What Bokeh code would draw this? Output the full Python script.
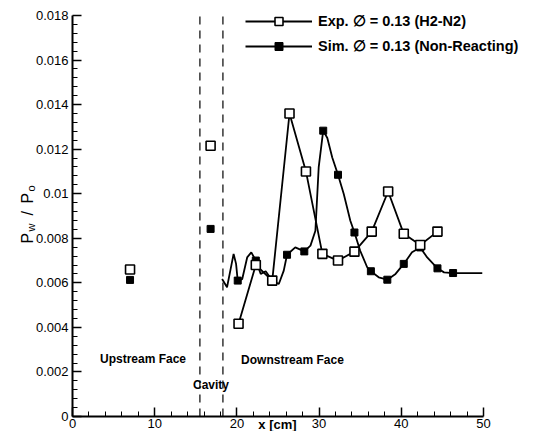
import math
from bokeh.plotting import figure
from bokeh.models import Label, Legend, LegendItem, FixedTicker, Range1d
from bokeh.embed import file_html
from bokeh.resources import INLINE

# ---------------- data ----------------
# Experiment (open squares)
exp_iso_x = [7.0, 16.8]
exp_iso_y = [0.0066, 0.01215]
exp_x = [20.2, 22.3, 24.3, 26.4, 28.4, 30.4, 32.3, 34.3, 36.4, 38.4, 40.3, 42.3, 44.4]
exp_y = [0.00416, 0.0068, 0.0061, 0.0136, 0.0110, 0.0073, 0.0070, 0.0074,
         0.0083, 0.0101, 0.0082, 0.0077, 0.0083]

# Simulation (filled squares + continuous curve)
sim_iso_x = [7.0, 16.8]
sim_iso_y = [0.00613, 0.00842]
sim_x = [20.1, 22.3, 24.3, 26.1, 28.2, 30.5, 32.3, 34.3, 36.3, 38.3, 40.3, 42.3, 44.4, 46.3]
sim_y = [0.0061, 0.0070, 0.0061, 0.00726, 0.00741, 0.01283, 0.01085, 0.00826,
         0.00652, 0.00614, 0.00685, 0.00759, 0.00665, 0.00644]
sim_curve_x = [18.2, 18.8, 19.2, 19.6, 19.9, 20.1, 20.65, 21.25, 21.75, 22.3, 22.9,
               23.5, 24.3, 25.1, 25.7, 26.1, 27.1, 28.2, 28.95, 29.55, 29.95, 30.5,
               31.0, 31.6, 32.3, 33.0, 33.8, 34.3, 35.0, 35.85, 36.3, 37.25, 38.3,
               39.3, 40.3, 41.3, 42.3, 43.15, 44.4, 45.2, 46.3, 49.85]
sim_curve_y = [0.00617, 0.00580, 0.00655, 0.00730, 0.00685, 0.00610, 0.00617,
               0.00714, 0.00737, 0.00700, 0.00640, 0.00652, 0.00610, 0.00595,
               0.00655, 0.00726, 0.00759, 0.00741, 0.00767, 0.00834, 0.01118,
               0.01283, 0.01250, 0.01163, 0.01085, 0.00999, 0.00879, 0.00826,
               0.00744, 0.00670, 0.00652, 0.00625, 0.00614, 0.00640, 0.00685,
               0.00737, 0.00759, 0.00714, 0.00665, 0.00647, 0.00644, 0.00644]

# vertical cavity boundaries
cavity_x = [15.5, 18.3]

# axis ticks
x_ticks = [0, 10, 20, 30, 40, 50]
x_tick_labels = ["0", "10", "20", "30", "40", "50"]
x_minor = [2, 4, 6, 8, 12, 14, 16, 18, 22, 24, 26, 28, 32, 34, 36, 38, 42, 44, 46, 48]
y_ticks = [0.0, 0.002, 0.004, 0.006, 0.008, 0.01, 0.012, 0.014, 0.016, 0.018]
y_tick_labels = ["0", "0.002", "0.004", "0.006", "0.008", "0.01", "0.012",
                 "0.014", "0.016", "0.018"]
y_minor = [0.0004, 0.0008, 0.0012, 0.0016, 0.0024, 0.0028, 0.0032, 0.0036,
           0.0044, 0.0048, 0.0052, 0.0056, 0.0064, 0.0068, 0.0072, 0.0076,
           0.0084, 0.0088, 0.0092, 0.0096, 0.0104, 0.0108, 0.0112, 0.0116,
           0.0124, 0.0128, 0.0132, 0.0136, 0.0144, 0.0148, 0.0152, 0.0156,
           0.0164, 0.0168, 0.0172, 0.0176]
x_bounds = (0, 50)
y_bounds = (0.0, 0.018)

legend_labels = ["Exp. \u2205 = 0.13 (H2-N2)", "Sim. \u2205 = 0.13 (Non-Reacting)"]

FONT = "Liberation Sans"

# frame fills the whole canvas; the axes sit at x=0 / y=0 inside it
p = figure(width=521, height=431, output_backend="svg", toolbar_location=None,
           title=None,
           x_range=Range1d(-8.759, 54.623), y_range=Range1d(-0.00067332, 0.0186733),
           min_border=0)
p.outline_line_color = None
p.grid.visible = False
p.background_fill_color = "white"
p.border_fill_color = "white"

for ax in (p.xaxis[0], p.yaxis[0]):
    ax.fixed_location = 0
    ax.axis_line_width = 2
    ax.axis_line_color = "black"
    ax.major_tick_in = 9
    ax.major_tick_out = 0
    ax.minor_tick_in = 5
    ax.minor_tick_out = 0
    ax.major_tick_line_width = 1.5
    ax.minor_tick_line_width = 1
    ax.major_tick_line_color = "black"
    ax.minor_tick_line_color = "black"
    ax.major_label_text_font = FONT
    ax.major_label_text_font_size = "13px"
    ax.major_label_text_color = "black"
    ax.major_label_standoff = 4

p.xaxis.major_label_standoff = 3
p.xaxis.bounds = x_bounds
p.yaxis.bounds = y_bounds
p.xaxis.ticker = FixedTicker(ticks=x_ticks, minor_ticks=x_minor)
p.yaxis.ticker = FixedTicker(ticks=y_ticks, minor_ticks=y_minor)
p.xaxis.major_label_overrides = {v: s for v, s in zip(x_ticks, x_tick_labels)}
p.yaxis.major_label_overrides = {v: s for v, s in zip(y_ticks, y_tick_labels)}

for cx in cavity_x:
    p.segment(x0=[cx], y0=[y_bounds[0]], x1=[cx], y1=[y_bounds[1]],
              line_color="black", line_width=1.2, line_dash="8 6")

# simulation
l_sim = p.line(sim_curve_x, sim_curve_y, line_color="black", line_width=1.8)
s_sim = p.scatter(sim_x, sim_y, marker="square", size=7, fill_color="black",
                  line_color="black")
p.scatter(sim_iso_x, sim_iso_y, marker="square", size=7, fill_color="black",
          line_color="black")

# experiment
l_exp = p.line(exp_x, exp_y, line_color="black", line_width=1.8)
s_exp = p.scatter(exp_x, exp_y, marker="square", size=9, fill_color="white",
                  line_color="black", line_width=1.6)
p.scatter(exp_iso_x, exp_iso_y, marker="square", size=9, fill_color="white",
          line_color="black", line_width=1.6)

legend = Legend(items=[LegendItem(label=legend_labels[0], renderers=[l_exp, s_exp]),
                       LegendItem(label=legend_labels[1], renderers=[l_sim, s_sim])],
                location=(245, 375), glyph_width=67, glyph_height=20,
                label_height=20, label_standoff=6, spacing=5, padding=0, margin=0,
                border_line_color=None, background_fill_alpha=0,
                label_text_font=FONT, label_text_font_style="bold",
                label_text_font_size="14.5px", label_text_color="black")
p.add_layout(legend)

def lab(x, y, text, size="12px", bold=True, angle=0.0, align="center",
        baseline="middle"):
    p.add_layout(Label(x=x, y=y, text=text, text_font=FONT, text_font_size=size,
                       text_font_style="bold" if bold else "normal",
                       text_color="black", angle=angle, text_align=align,
                       text_baseline=baseline))

lab(8.577, 0.002581, "Upstream Face")
lab(16.85, 0.001423, "Cavity")
lab(26.76, 0.002514, "Downstream Face")
lab(24.94, -0.00034, "x [cm]", size="13px")

# y axis label P_w / P_o (rotated)
a = math.pi / 2
lab(-5.474, 0.007766, "P", size="16px", bold=False, angle=a, align="left", baseline="alphabetic")
lab(-4.988, 0.008304, "w", size="11px", bold=False, angle=a, align="left", baseline="alphabetic")
lab(-5.474, 0.009022, "/", size="16px", bold=False, angle=a, align="left", baseline="alphabetic")
lab(-5.474, 0.009561, "P", size="16px", bold=False, angle=a, align="left", baseline="alphabetic")
lab(-4.988, 0.0101, "o", size="11px", bold=False, angle=a, align="left", baseline="alphabetic")

open("out.html", "w").write(file_html(p, INLINE))
